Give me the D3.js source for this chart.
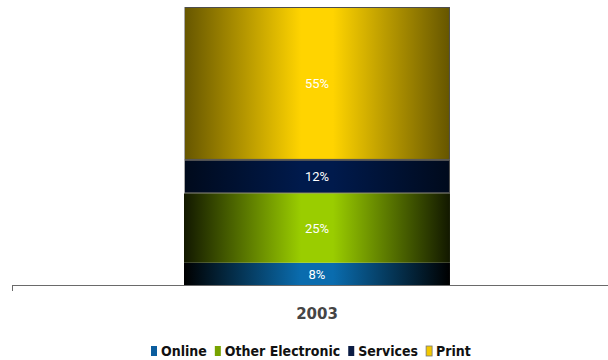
<!DOCTYPE html>
<html>
<head>
<meta charset="utf-8">
<script src="https://cdn.jsdelivr.net/npm/d3@7"></script>
<style>
  html, body { margin: 0; padding: 0; background: #fff; }
  svg { display: block; }
</style>
</head>
<body>
<svg id="chart" width="608" height="360"></svg>
<script>
// Share of revenue by segment, single year
const categories = ["2003"];
const seriesNames = ["Online", "Other Electronic", "Services", "Print"];
const seriesValues = [8, 25, 12, 55];
const valueLabels = ["8%", "25%", "12%", "55%"];

// Fill ramps (edge, centre) and legend swatch colours
const edgeColors = ["#000000", "#121800", "#000a1c", "#665600"];
const centerColors = ["#0a6cae", "#9acd00", "#001a4c", "#ffd400"];
const swatchColors = ["#0b5d9e", "#77a300", "#0b1c44", "#f2c800"];
const outlined = [false, false, true, true];

const svg = d3.select("#chart");
const W = 608, H = 360;
const plotTop = 7, axisY = 285;

// the category band runs a little past the right edge of the canvas
const x = d3.scaleBand().domain(categories).range([12, 622]).paddingOuter(0);
const y = d3.scaleLinear().domain([0, 100]).range([axisY, plotTop]);
const barW = x.bandwidth() * 0.436;

// horizontal edge-to-centre gradients
const defs = svg.append("defs");
seriesNames.forEach((s, i) => {
  const g = defs.append("linearGradient").attr("id", "grad" + i)
    .attr("x1", "0%").attr("x2", "100%").attr("y1", "0%").attr("y2", "0%");
  g.append("stop").attr("offset", "0%").attr("stop-color", edgeColors[i]);
  g.append("stop").attr("offset", "44%").attr("stop-color", centerColors[i]);
  g.append("stop").attr("offset", "56%").attr("stop-color", centerColors[i]);
  g.append("stop").attr("offset", "100%").attr("stop-color", edgeColors[i]);
});

// stacked segments
const row = { year: categories[0] };
seriesNames.forEach((s, i) => row[s] = seriesValues[i]);
const stacked = d3.stack().keys(seriesNames)([row]);

const bx = Math.round(x(categories[0]) + (x.bandwidth() - barW) / 2);

const seg = svg.append("g").selectAll("g").data(stacked).join("g");
seg.append("rect")
  .attr("x", d => outlined[d.index] ? bx + 0.5 : bx)
  .attr("width", d => outlined[d.index] ? barW - 1 : barW)
  .attr("y", d => y(d[0][1]) + (outlined[d.index] ? 0.5 : 0))
  .attr("height", d => y(d[0][0]) - y(d[0][1]) - (outlined[d.index] ? 1 : 0))
  .attr("fill", d => `url(#grad${d.index})`)
  .attr("stroke", d => outlined[d.index] ? "#4d4d4d" : "none")
  .attr("stroke-width", 1);
// lighter left edge on outlined segments
seg.filter(d => outlined[d.index]).append("line")
  .attr("x1", bx + 0.5).attr("x2", bx + 0.5)
  .attr("y1", d => y(d[0][1])).attr("y2", d => y(d[0][0]))
  .attr("stroke", "#a8a8a8").attr("stroke-width", 1);

seg.append("text")
  .attr("x", bx + barW / 2)
  .attr("y", d => (y(d[0][0]) + y(d[0][1])) / 2)
  .attr("dy", "0.36em")
  .attr("text-anchor", "middle")
  .attr("fill", "#ffffff")
  .attr("font-family", "Roboto, sans-serif")
  .attr("font-size", 13)
  .text(d => valueLabels[d.index]);

// category axis
const axis = svg.append("g").attr("transform", `translate(0,${axisY})`);
axis.append("line").attr("x1", 12).attr("x2", W).attr("y1", 0.5).attr("y2", 0.5)
  .attr("stroke", "#6a6a6a").attr("stroke-width", 1);
axis.append("line").attr("x1", 12.5).attr("x2", 12.5).attr("y1", 0).attr("y2", 6)
  .attr("stroke", "#6a6a6a").attr("stroke-width", 1);
axis.selectAll("text.cat").data(categories).join("text")
  .attr("class", "cat")
  .attr("x", d => x(d) + x.bandwidth() / 2)
  .attr("y", 34)
  .attr("text-anchor", "middle")
  .attr("fill", "#454545")
  .attr("font-family", "'DejaVu Sans', sans-serif")
  .attr("font-weight", "bold")
  .attr("font-size", 15)
  .text(d => d);

// legend
const legend = svg.append("g").attr("font-family", "'DejaVu Sans Condensed', 'DejaVu Sans', sans-serif")
  .attr("font-weight", "bold").attr("font-size", 14).attr("fill", "#111");
let lx = 0;
const items = legend.selectAll("g").data(seriesNames).join("g");
items.append("rect").attr("width", 6).attr("height", 10).attr("y", -10)
  .attr("fill", (d, i) => swatchColors[i])
  .attr("stroke", (d, i) => i === 3 ? "#777" : "none").attr("stroke-width", 0.8);
items.append("text").attr("x", 10).text(d => d);
items.each(function () {
  const w = this.getBBox().width;
  d3.select(this).attr("transform", `translate(${lx},0)`);
  lx += w + 8;
});
legend.attr("transform", `translate(151,356)`);
</script>
</body>
</html>
